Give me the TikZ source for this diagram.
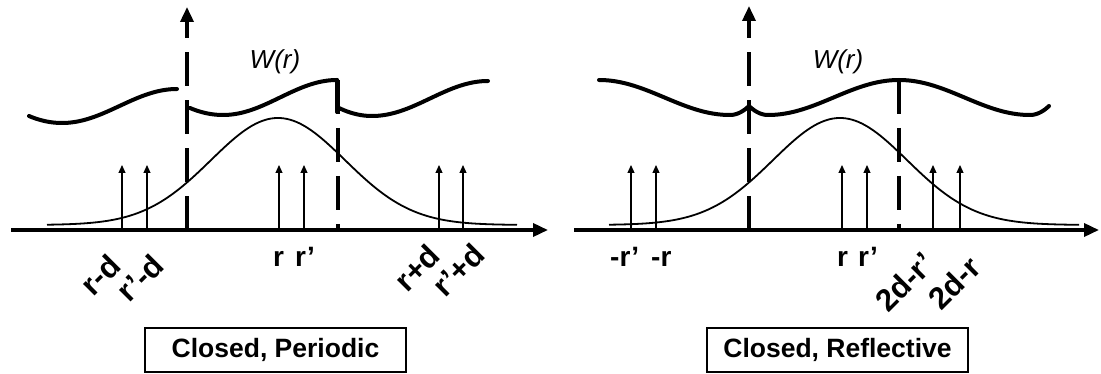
\documentclass[tikz,border=0pt]{standalone}
\usepackage{fontspec}
\setmainfont{Liberation Sans}
\usetikzlibrary{arrows.meta}

% one thick piece of W: parabolic drop from (x0,y0) to the minimum (xm,ymin),
% then a half cosine up to the maximum (x1,ymax)
\newcommand\wpiece[6]{%
  \draw[wline] plot[domain=#1:#2,samples=20] (\x,{#5-(#5-#4)*((#2-\x)/(#2-#1))^2})
    -- plot[domain=#2:#3,samples=60] (\x,{(#5+#6)/2+(#5-#6)/2*cos(180*((\x-#2)/(#3-#2)))});
}

\begin{document}
\begin{tikzpicture}[x=1pt,y=-1pt,
  haxis/.style={line width=3.5pt,-{Triangle[length=15pt,width=13pt]}},
  vaxis/.style={haxis,dash pattern=on 34pt off 14pt},
  wallline/.style={line width=3.5pt,dash pattern=on 34pt off 14pt},
  wline/.style={line width=4pt,line cap=round,line join=round},
  gauss/.style={line width=1.8pt},
  pulse/.style={line width=1.2pt,-{Triangle[length=8pt,width=7pt]}},
  lab/.style={font=\fontsize{28}{30}\selectfont\bfseries,inner sep=0pt},
  slant/.style={lab,rotate=45,font=\fontsize{31}{33}\selectfont\bfseries},
  wlab/.style={font=\fontsize{26}{28}\selectfont\itshape,inner sep=0pt},
  caption/.style={draw,line width=1.3pt,minimum width=261pt,minimum height=44pt,
    inner sep=0pt,font=\fontsize{26.5}{28}\selectfont\bfseries}]
\useasboundingbox (0,0) rectangle (1101,374);

% ---------- periodic cell ----------
\draw[gauss] plot[domain=47:517,samples=150]
  (\x,{225-107*exp(-0.5*((\x-278)/67)^2)});
\foreach \p in {122,147,279,304,439,463}
  \draw[pulse] (\p,230) -- (\p,165);
\draw[haxis] (11,230) -- (548,230);
\draw[vaxis] (187,230) -- (187,7);
\draw[wallline] (338,80) -- (338,230);
\wpiece{29}{62}{177}{116}{123}{89}
\wpiece{190}{223}{337}{108}{115}{80}
\draw[wline] (337,80) -- (337,112);
\wpiece{339}{372}{488}{108}{116}{81}

\node[wlab] (wleft) at (275,62) {W(r)};
\node[lab,anchor=base west] (lr) at (273,267) {r};
\node[lab,anchor=base west] (lrp) at (295,267) {r’};
\node[slant] (lrmd) at (100,275) {r-d};
\node[slant] (lrpmd) at (140,278) {r’-d};
\node[slant] (lrpd) at (417,268) {r+d};
\node[slant] (lrppd) at (458,270) {r’+d};
\node[caption] (capl) at (275.5,350) {Closed, Periodic};

% ---------- reflective cell ----------
\draw[gauss] plot[domain=609:1079,samples=150]
  (\x,{225-107*exp(-0.5*((\x-840)/67)^2)});
\foreach \p in {631,656,842,867,933,960}
  \draw[pulse] (\p,230) -- (\p,165);
\draw[haxis] (574,230) -- (1099,230);
\draw[vaxis] (749,230) -- (749,6);
\draw[wallline] (899,80) -- (899,230);
\wpiece{749}{768}{899}{106}{115}{80}
\begin{scope}[shift={(1498,0)},xscale=-1]
  \wpiece{749}{768}{899}{106}{115}{80}
\end{scope}
\begin{scope}[shift={(1798,0)},xscale=-1]
  \wpiece{749}{768}{899}{106}{115}{80}
\end{scope}

\node[wlab] (wright) at (838,62) {W(r)};
\node[lab,anchor=base west] (rmrp) at (610,267) {-r’};
\node[lab,anchor=base west] (rmr) at (651,267) {-r};
\node[lab,anchor=base west] (rr) at (837,267) {r};
\node[lab,anchor=base west] (rrp) at (858,267) {r’};
\node[slant] (r2drp) at (905,282) {2d-r’};
\node[slant] (r2dr) at (954,283) {2d-r};
\node[caption] (capr) at (837.5,350) {Closed, Reflective};
\end{tikzpicture}
\end{document}
